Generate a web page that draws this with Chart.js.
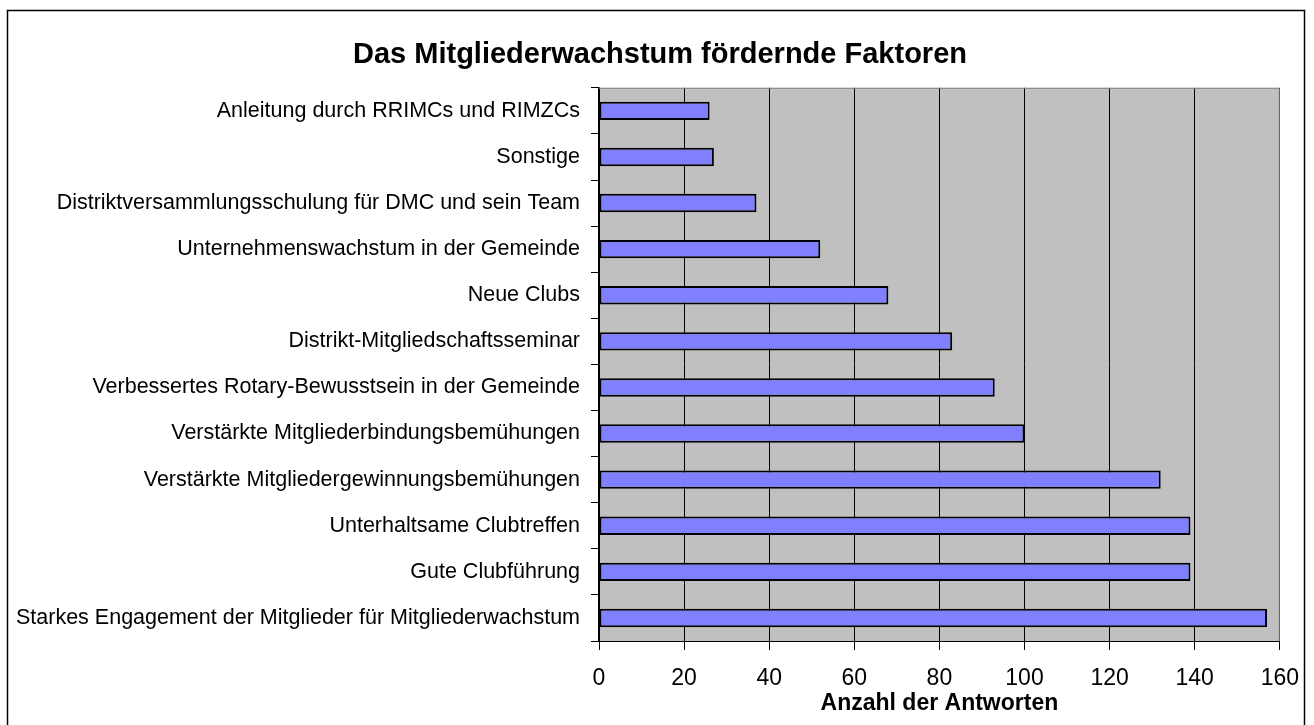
<!DOCTYPE html>
<html>
<head>
<meta charset="utf-8">
<script src="https://cdn.jsdelivr.net/npm/chart.js@4"></script>
<style>
  html, body { margin: 0; padding: 0; background: #fff; }
  #wrap { width: 1314px; height: 725px; }
</style>
</head>
<body>
<div id="wrap"><canvas id="barChart" width="1314" height="725"></canvas></div>
<script>
// Data ----------------------------------------------------

const categories = [
  'Anleitung durch RRIMCs und RIMZCs',
  'Sonstige',
  'Distriktversammlungsschulung für DMC und sein Team',
  'Unternehmenswachstum in der Gemeinde',
  'Neue Clubs',
  'Distrikt-Mitgliedschaftsseminar',
  'Verbessertes Rotary-Bewusstsein in der Gemeinde',
  'Verstärkte Mitgliederbindungsbemühungen',
  'Verstärkte Mitgliedergewinnungsbemühungen',
  'Unterhaltsame Clubtreffen',
  'Gute Clubführung',
  'Starkes Engagement der Mitglieder für Mitgliederwachstum'
];
const answers = [26, 27, 37, 52, 68, 83, 93, 100, 132, 139, 139, 157];
const xTicks = [0, 20, 40, 60, 80, 100, 120, 140, 160];

const chartTitle = 'Das Mitgliederwachstum fördernde Faktoren';
const xTitle = 'Anzahl der Antworten';

// gray plot area + outer frame
const frame = {
  id: 'frame',
  afterLayout(chart) {
    // title in the original sits a bit right of the canvas centre
    if (chart.titleBlock) chart.titleBlock.left = 38;
  },
  beforeDraw(chart) {
    const {ctx, chartArea: a} = chart;
    ctx.save();
    ctx.fillStyle = '#fff';
    ctx.fillRect(0, 0, chart.width, chart.height);
    ctx.fillStyle = '#c0c0c0';
    ctx.fillRect(a.left, a.top, a.right - a.left, a.bottom - a.top);
    ctx.strokeStyle = '#000';
    ctx.lineWidth = 1.5;
    ctx.strokeRect(7.5, 10.5, 1297, 800); // frame runs past the bottom edge
    ctx.restore();
  },
  beforeDatasetsDraw(chart) {
    const {ctx, chartArea: a} = chart;
    ctx.save();
    ctx.strokeStyle = '#808080';
    ctx.lineWidth = 1;
    ctx.beginPath();
    ctx.moveTo(a.left, a.top + 0.5);
    ctx.lineTo(a.right - 0.5, a.top + 0.5);
    ctx.lineTo(a.right - 0.5, a.bottom);
    ctx.stroke();
    ctx.restore();
  }
};

// chart -------------------------------------------------------------------------

const data = {
  labels: categories,
  datasets: [{
    label: xTitle,
    data: answers,
    backgroundColor: '#8080ff',
    borderColor: '#000',
    borderWidth: 2,
    borderSkipped: false,
    barPercentage: 0.4,
    categoryPercentage: 1
  }]
};

const config = {
  type: 'bar',
  data,
  options: {
    indexAxis: 'y',
    responsive: false,
    animation: false,
    layout: { padding: { left: 0, right: 32, top: 0, bottom: 8 } },
    plugins: {
      legend: { display: false },
      tooltip: { enabled: false },
      title: {
        display: true,
        text: chartTitle,
        color: '#000',
        font: { family: 'Liberation Sans, Arial', size: 29, weight: 'bold' },
        padding: { top: 38, bottom: 15 }
      }
    },
    scales: {
      x: {
        min: 0,
        max: 160,
        afterBuildTicks: (scale) => { scale.ticks = xTicks.map(v => ({ value: v })); },
        afterFit: (scale) => { scale.height = 76; },
        ticks: {
          color: '#000',
          padding: 15,
          font: { family: 'Liberation Sans, Arial', size: 23 }
        },
        grid: { color: '#000', lineWidth: 1, tickLength: 9 },
        border: { color: '#000', width: 1 },
        title: {
          display: true,
          text: xTitle,
          color: '#000',
          font: { family: 'Liberation Sans, Arial', size: 23, weight: 'bold' },
          padding: { top: 0, bottom: 0 }
        }
      },
      y: {
        afterFit: (scale) => { scale.width = 599; },
        ticks: {
          color: '#000',
          padding: 11,
          crossAlign: 'near',
          autoSkip: false,
          font: { family: 'Liberation Sans, Arial', size: 21.5 }
        },
        grid: { color: '#000', drawOnChartArea: false, tickLength: 8, offset: true },
        border: { color: '#000', width: 1.5 }
      }
    }
  },
  plugins: [frame]
};

const barChart = new Chart(document.getElementById('barChart'), config);
</script>
</body>
</html>
